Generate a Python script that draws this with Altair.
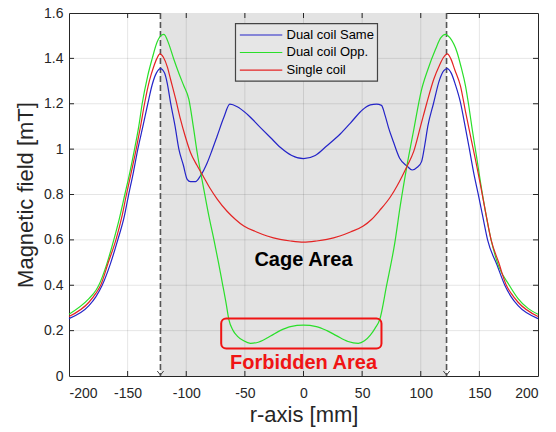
import altair as alt
import pandas as pd

# ---------------- data ----------------
series_names = ["Dual coil Same", "Dual coil Opp.", "Single coil"]
series_colors = ["#2424c8", "#2adf2a", "#e42424"]

x_same = [-200, -183, -177, -171.7, -165, -158.4, -153, -149.5, -145, -141.3,
          -137, -132.8, -129, -125.5, -122, -118.5, -116.2, -113.4, -109.5, -106.3,
          -102.5, -99.2, -96.4, -92.1, -87.9, -82.1, -78, -73.6, -68, -62.8,
          -56.5, -48, -36.7, -28, -19.6, -10, 0, 10, 20, 30,
          40, 50.9, 57, 62.3, 66.5, 69.5, 72.5, 76.5, 82, 88.4,
          92.7, 97, 100.7, 103.5, 106, 110.8, 116, 119.5, 122.5, 126,
          129.5, 133.9, 137.5, 141, 145, 149.5, 153, 157, 165, 171.7,
          177, 183, 200]
y_same = [0.253, 0.31, 0.35, 0.40, 0.49, 0.60, 0.70, 0.79, 0.90, 1.00,
          1.10, 1.20, 1.285, 1.335, 1.355, 1.335, 1.29, 1.205, 1.10, 1.00,
          0.93, 0.867, 0.857, 0.857, 0.882, 0.94, 0.995, 1.058, 1.139, 1.198,
          1.187, 1.154, 1.095, 1.05, 1.007, 0.972, 0.958, 0.972, 1.015, 1.06,
          1.115, 1.176, 1.195, 1.198, 1.193, 1.15, 1.095, 1.035, 0.96, 0.925,
          0.908, 0.92, 0.945, 1.02, 1.1, 1.2, 1.305, 1.345, 1.355, 1.335,
          1.285, 1.205, 1.11, 1.014, 0.9, 0.79, 0.70, 0.60, 0.49, 0.40,
          0.35, 0.31, 0.253]

x_opp = [-200, -183, -177, -174.6, -168, -161.8, -157, -152.4, -148, -144.1,
         -140.5, -137.6, -133, -129, -125, -121, -119, -115, -110.6, -106,
         -102, -97.8, -94, -90.7, -85, -80.5, -76.5, -72.5, -69.3, -66,
         -63.7, -60, -56.5, -51, -45.2, -38, -28.1, -20, -11.1, 0,
         11, 20, 28, 38, 46.7, 52, 57, 61, 65.1, 70.8,
         77.9, 82.5, 88, 94.1, 100.4, 106, 112.6, 117, 121, 125,
         131.1, 134.5, 138.2, 141, 143.9, 147.5, 151, 155, 160, 166,
         175.5, 183, 200]
y_opp = [0.272, 0.341, 0.378, 0.40, 0.49, 0.60, 0.695, 0.80, 0.90, 1.00,
         1.10, 1.20, 1.32, 1.40, 1.47, 1.503, 1.506, 1.465, 1.396, 1.33,
         1.278, 1.22, 1.10, 0.985, 0.823, 0.70, 0.603, 0.50, 0.412, 0.32,
         0.25, 0.20, 0.176, 0.155, 0.144, 0.15, 0.176, 0.20, 0.218, 0.224,
         0.218, 0.20, 0.178, 0.152, 0.144, 0.155, 0.18, 0.21, 0.25, 0.397,
         0.588, 0.75, 0.92, 1.087, 1.256, 1.35, 1.44, 1.49, 1.506, 1.49,
         1.425, 1.36, 1.278, 1.19, 1.087, 0.97, 0.852, 0.73, 0.60, 0.49,
         0.40, 0.341, 0.272]

x_single = [-200, -183, -177, -173, -166.5, -160, -155, -151, -146.8, -142.7,
            -139, -135.6, -131.5, -128, -125, -122.5, -119.5, -116, -113.4, -109,
            -104.9, -100.5, -96.4, -91, -86, -80, -73.6, -65, -58, -50.9,
            -40, -31, -20, -11.1, 0, 11.1, 20, 31, 40, 51,
            58, 65, 74.2, 80, 88.4, 94, 99.8, 105, 111.1, 116,
            119.5, 122.7, 125.5, 129, 133.9, 138, 142.4, 146.8, 151, 155,
            160, 166.5, 173, 177, 183, 200]
y_single = [0.262, 0.325, 0.365, 0.40, 0.50, 0.60, 0.70, 0.80, 0.90, 1.00,
            1.10, 1.20, 1.30, 1.36, 1.40, 1.42, 1.405, 1.36, 1.308, 1.22,
            1.131, 1.05, 0.985, 0.93, 0.885, 0.83, 0.78, 0.725, 0.69, 0.661,
            0.635, 0.617, 0.602, 0.595, 0.59, 0.595, 0.602, 0.617, 0.635, 0.661,
            0.69, 0.73, 0.79, 0.84, 0.926, 0.99, 1.10, 1.2, 1.308, 1.37,
            1.405, 1.42, 1.40, 1.35, 1.278, 1.17, 1.058, 0.95, 0.84, 0.73,
            0.60, 0.50, 0.40, 0.365, 0.325, 0.262]

x_ticks = [-200, -150, -100, -50, 0, 50, 100, 150, 200]
y_ticks = [0, 0.2, 0.4, 0.6, 0.8, 1, 1.2, 1.4, 1.6]

cage_edges = [-122, 122]
cage_label = "Cage Area"
forbidden_label = "Forbidden Area"

# ---------------- layout constants ----------------
W, H = 469, 363
FONT = "Liberation Sans"
x_scale = alt.Scale(domain=[-200, 200], nice=False, zero=False)
y_scale = alt.Scale(domain=[0, 1.6], nice=False, zero=False)
color_scale = alt.Scale(domain=series_names, range=series_colors)
X_TITLE = "r-axis [mm]"
Y_TITLE = "Magnetic field [mT]"

x_axis = alt.Axis(values=x_ticks, labelExpr="toString(datum.value)",
                  ticks=False, domain=False, grid=False,
                  labelFontSize=14, labelPadding=10, labelColor="#262626",
                  labelFont=FONT, titleFont=FONT, titleFontSize=22,
                  titleFontWeight="normal", titleColor="#262626",
                  titleX=W / 2, titleY=38, titleBaseline="middle")
y_axis = alt.Axis(values=y_ticks, labelExpr="toString(datum.value)",
                  ticks=False, domain=False, grid=False,
                  labelFontSize=14, labelPadding=6, labelColor="#262626",
                  labelFont=FONT, titleFont=FONT, titleFontSize=22,
                  titleFontWeight="normal", titleColor="#262626",
                  titleX=-44, titleY=H / 2, titleAngle=-90,
                  titleAlign="center", titleBaseline="middle")


def X(field):
    return alt.X(field, scale=x_scale, axis=x_axis, title=X_TITLE)


def Y(field):
    return alt.Y(field, scale=y_scale, axis=y_axis, title=Y_TITLE)


rows = []
for name, xs, ys in [(series_names[0], x_same, y_same),
                     (series_names[1], x_opp, y_opp),
                     (series_names[2], x_single, y_single)]:
    for xv, yv in zip(xs, ys):
        rows.append({"series": name, "r": xv, "B": yv})
df_lines = pd.DataFrame(rows)

df_shade = pd.DataFrame({"a": [cage_edges[0]], "b": [cage_edges[1]]})
df_edges = pd.DataFrame({"x": cage_edges})
df_xgrid = pd.DataFrame({"x": x_ticks[1:-1]})
df_ygrid = pd.DataFrame({"y": y_ticks[1:-1]})

shade = alt.Chart(df_shade).mark_rect(color="#e3e3e3").encode(x=X("a:Q"), x2="b:Q")

gridx = alt.Chart(df_xgrid).mark_rule(color="black", opacity=0.1, strokeWidth=1).encode(
    x=X("x:Q"))
gridy = alt.Chart(df_ygrid).mark_rule(color="black", opacity=0.1, strokeWidth=1).encode(
    y=Y("y:Q"))

# forbidden area box
df_box = pd.DataFrame({"x1": [-70.2], "x2": [66.5], "y1": [0.121], "y2": [0.253]})
fbox = alt.Chart(df_box).mark_rect(fillOpacity=0, stroke="#f01414", strokeWidth=2,
                                   cornerRadius=5).encode(
    x=X("x1:Q"), x2="x2:Q", y=Y("y1:Q"), y2="y2:Q")

edges = alt.Chart(df_edges).mark_rule(color="#555555", strokeWidth=1.6,
                                      strokeDash=[6, 3]).encode(x=X("x:Q"))

arrows = alt.Chart(df_edges).mark_point(shape="M-0.8,-1L0,0L0.8,-1", filled=False,
                                        size=64, color="#444444", strokeWidth=1,
                                        opacity=1).encode(
    x=X("x:Q"), y=alt.value(H - 1))

lines = alt.Chart(df_lines).mark_line(strokeWidth=1.2, interpolate="monotone").encode(
    x=X("r:Q"), y=Y("B:Q"),
    color=alt.Color("series:N", scale=color_scale, legend=None),
    detail="series:N")

# inner ticks
tick_len = 5
tb = alt.Chart(df_xgrid).mark_rule(color="#262626").encode(
    x=X("x:Q"), y=alt.value(H), y2=alt.value(H - tick_len))
tt = alt.Chart(df_xgrid).mark_rule(color="#262626").encode(
    x=X("x:Q"), y=alt.value(0), y2=alt.value(tick_len))
tl = alt.Chart(df_ygrid).mark_rule(color="#262626").encode(
    y=Y("y:Q"), x=alt.value(0), x2=alt.value(tick_len))
tr = alt.Chart(df_ygrid).mark_rule(color="#262626").encode(
    y=Y("y:Q"), x=alt.value(W), x2=alt.value(W - tick_len))

# legend (manual)
df_legbox = pd.DataFrame({"x1": [-58], "x2": [63.1], "y1": [1.300], "y2": [1.553]})
legbox = alt.Chart(df_legbox).mark_rect(fill="#e6e6e6", stroke="#444444",
                                        strokeWidth=1.2).encode(
    x=X("x1:Q"), x2="x2:Q", y=Y("y1:Q"), y2="y2:Q")
df_leg = pd.DataFrame({"series": series_names, "lx1": [-54.3] * 3, "lx2": [-18.1] * 3,
                       "tx": [-14.5] * 3, "ly": [1.503, 1.426, 1.348]})
leglines = alt.Chart(df_leg).mark_rule(strokeWidth=1.2).encode(
    x=X("lx1:Q"), x2="lx2:Q", y=Y("ly:Q"),
    color=alt.Color("series:N", scale=color_scale, legend=None))
legtext = alt.Chart(df_leg).mark_text(align="left", baseline="middle", fontSize=13,
                                      font=FONT, color="#000000").encode(
    x=X("tx:Q"), y=Y("ly:Q"), text="series:N")

df_txt = pd.DataFrame({"x": [0, 0], "y": [0.485, 0.03],
                       "t": [cage_label, forbidden_label]})
cage = alt.Chart(df_txt.iloc[[0]]).mark_text(fontSize=20, fontWeight="bold", font=FONT,
                                             color="#000000", baseline="alphabetic").encode(
    x=X("x:Q"), y=Y("y:Q"), text="t:N")
forb = alt.Chart(df_txt.iloc[[1]]).mark_text(fontSize=20, fontWeight="bold", font=FONT,
                                             color="#f01414", baseline="alphabetic").encode(
    x=X("x:Q"), y=Y("y:Q"), text="t:N")

chart = alt.layer(
    shade, gridx, gridy, edges, lines, fbox, arrows, tb, tt, tl, tr,
    legbox, leglines, legtext, cage, forb
).properties(
    width=W, height=H,
    autosize=alt.AutoSizeParams(type="none"),
    padding={"left": 69, "top": 13, "right": 18, "bottom": 56},
    background="white",
).configure_view(stroke="#262626", strokeWidth=1)

chart.save("out.html", embed_options={"renderer": "svg", "actions": False})
